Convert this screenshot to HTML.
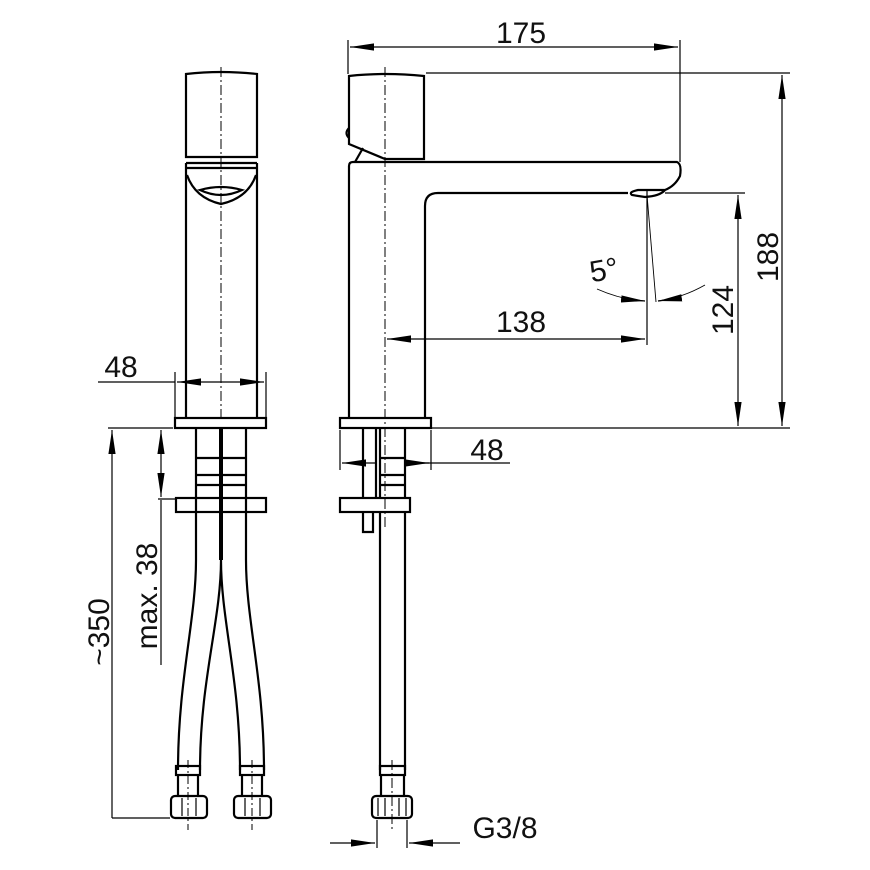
<!DOCTYPE html>
<html><head><meta charset="utf-8"><style>body{margin:0;background:#fff}svg{display:block}text{font-family:"Liberation Sans",sans-serif;fill:#111}</style></head>
<body>
<svg width="870" height="870" viewBox="0 0 870 870" xmlns="http://www.w3.org/2000/svg">
<defs>
<marker id="a" viewBox="0 0 10 10" refX="10" refY="5" markerWidth="24" markerHeight="8" markerUnits="userSpaceOnUse" orient="auto-start-reverse" preserveAspectRatio="none"><path d="M0,0.5 L10,5 L0,9.5z" fill="#000"/></marker>
</defs>
<g fill="none" stroke="#000">
<!-- LEFT VIEW -->
<g stroke-width="2.2">
<path d="M186,74 Q221,70 257,74 L257,157 L186,157 Z"/>
<path d="M186,163 L257,163"/>
<path d="M186,163 L186,418 M257,163 L257,418"/>
<path d="M187,175 Q195,198 221,204 Q248,198 256,175"/>
<path d="M187,168 L256,168"/>
<path d="M200,190 Q221,184 242,190 Q221,200 200,190 Z"/>
<rect x="175" y="418" width="91" height="10"/>
<path d="M196,428 L196,560 M246,428 L246,560"/>
<path d="M196,458 L246,458 M196,475 L246,475 M196,485 L246,485"/>
<rect x="176" y="498" width="90" height="14"/>
<path d="M196,560 C196,620 178,680 178,770 M246,560 C246,620 264,680 264,770"/>
<path d="M221,560 C221,620 200,680 200,770 M221,560 C221,620 240,680 240,770"/>
<rect x="176" y="766" width="24" height="9"/>
<rect x="240" y="766" width="24" height="9"/>
<path d="M178,775 L178,796 M198,775 L198,796 M242,775 L242,796 M262,775 L262,796"/>
<rect x="171" y="796" width="36" height="22" rx="4"/>
<rect x="234" y="796" width="37" height="22" rx="4"/>
<path d="M182,798 L182,816 M196,798 L196,816 M245,798 L245,816 M260,798 L260,816" stroke-width="1.2"/>
</g>
<path d="M221,428 L221,560" stroke-width="4"/>
<path d="M221,67 L221,420" stroke-width="1" stroke-dasharray="10,3,2,3"/>
<path d="M188,760 L188,830 M252,760 L252,830" stroke-width="1" stroke-dasharray="8,3,2,3"/>
<g stroke-width="1.2">
<path d="M175,372 L175,418 M266,372 L266,418"/>
<path d="M98,382 L175,382" />
<path d="M221,382 L177,382" marker-end="url(#a)"/>
<path d="M221,382 L264,382" marker-end="url(#a)"/>
<path d="M108,428 L173,428 M158,499 L175,499"/>
<path d="M112,818 L112,430" marker-end="url(#a)"/>
<path d="M112,818 L170,818"/>
<path d="M161,665 L161,500"/>
<path d="M161,465 L161,430" marker-end="url(#a)"/>
<path d="M161,465 L161,497" marker-end="url(#a)"/>
</g>
<!-- RIGHT VIEW -->
<g stroke-width="2.2">
<path d="M349,76 Q385,72 424,76 L424,159 L385,159 L349,144 Z"/>
<path d="M349,128 Q344,133 349,138"/>
<path d="M355,162 L363,148"/>
<path d="M349,418 L349,166 Q349,162 353,162 L677,162 Q682,164 680,176 Q675,186 665,190 L638,190 Q628,192 632,195 L645,197 Q660,196 665,190"/>
<path d="M628,193 L438,193 Q425,193 425,206 L425,418"/>
<rect x="340" y="418" width="91" height="10"/>
<path d="M363,428 L363,498 M376,428 L376,498 M380,428 L380,498 M405,428 L405,498"/>
<path d="M380,458 L405,458 M380,475 L405,475 M380,485 L405,485"/>
<rect x="340" y="498" width="70" height="14"/>
<path d="M363,512 L363,532 L373,532 L373,512"/>
<path d="M380,512 L380,770 M405,512 L405,770"/>
<rect x="380" y="766" width="25" height="9"/>
<path d="M381,775 L381,796 M404,775 L404,796"/>
<rect x="372" y="796" width="40" height="22" rx="4"/>
<path d="M378,798 L378,816 M385,798 L385,816 M399,798 L399,816 M406,798 L406,816" stroke-width="1.2"/>
</g>
<path d="M385,67 L385,530 M392,760 L392,832" stroke-width="1" stroke-dasharray="10,3,2,3"/>
<g stroke-width="1.2">
<path d="M348,40 L348,74 M680,40 L680,162"/>
<path d="M514,47 L350,47" marker-end="url(#a)"/>
<path d="M514,47 L678,47" marker-end="url(#a)"/>
<path d="M426,73 L790,73 M432,428 L790,428 M665,193 L745,193"/>
<path d="M782,250 L782,75" marker-end="url(#a)"/>
<path d="M782,250 L782,426" marker-end="url(#a)"/>
<path d="M738,310 L738,195" marker-end="url(#a)"/>
<path d="M738,310 L738,426" marker-end="url(#a)"/>
<path d="M647,190 L647,345"/>
<path d="M647,195 L656,302" stroke-width="0.9"/>
<path d="M515,339 L387,339" marker-end="url(#a)"/>
<path d="M515,339 L645,339" marker-end="url(#a)"/>
<path d="M597,289 Q622,300 645,301" stroke-width="0.9"/>
<path d="M622,299 L645,301" marker-end="url(#a)"/>
<path d="M705,285 Q682,298 658,301" stroke-width="0.9"/>
<path d="M680,298 L658,301" marker-end="url(#a)"/>
<path d="M340,430 L340,470 M431,430 L431,470"/>
<path d="M365,463 L342,463" marker-end="url(#a)"/>
<path d="M365,463 L376,463 M405,463 L510,463"/>
<path d="M405,463 L429,463" marker-end="url(#a)"/>
<path d="M377,820 L377,848 M407,820 L407,848"/>
<path d="M330,843 L375,843" marker-end="url(#a)"/>
<path d="M460,843 L409,843" marker-end="url(#a)"/>
</g>
</g>
<g font-size="30">
<text x="121" y="377" text-anchor="middle">48</text>
<text x="521" y="43" text-anchor="middle">175</text>
<text x="521" y="332" text-anchor="middle">138</text>
<text x="487" y="460" text-anchor="middle">48</text>
<text x="505" y="838" text-anchor="middle">G3/8</text>
<text x="604" y="280" text-anchor="middle" transform="rotate(-10 604 270)">5°</text>
<text transform="translate(778,257) rotate(-90)" text-anchor="middle">188</text>
<text transform="translate(733,310) rotate(-90)" text-anchor="middle">124</text>
<text transform="translate(109,632) rotate(-90)" text-anchor="middle">~350</text>
<text transform="translate(157,596) rotate(-90)" text-anchor="middle">max. 38</text>
</g>
</svg>
</body></html>
